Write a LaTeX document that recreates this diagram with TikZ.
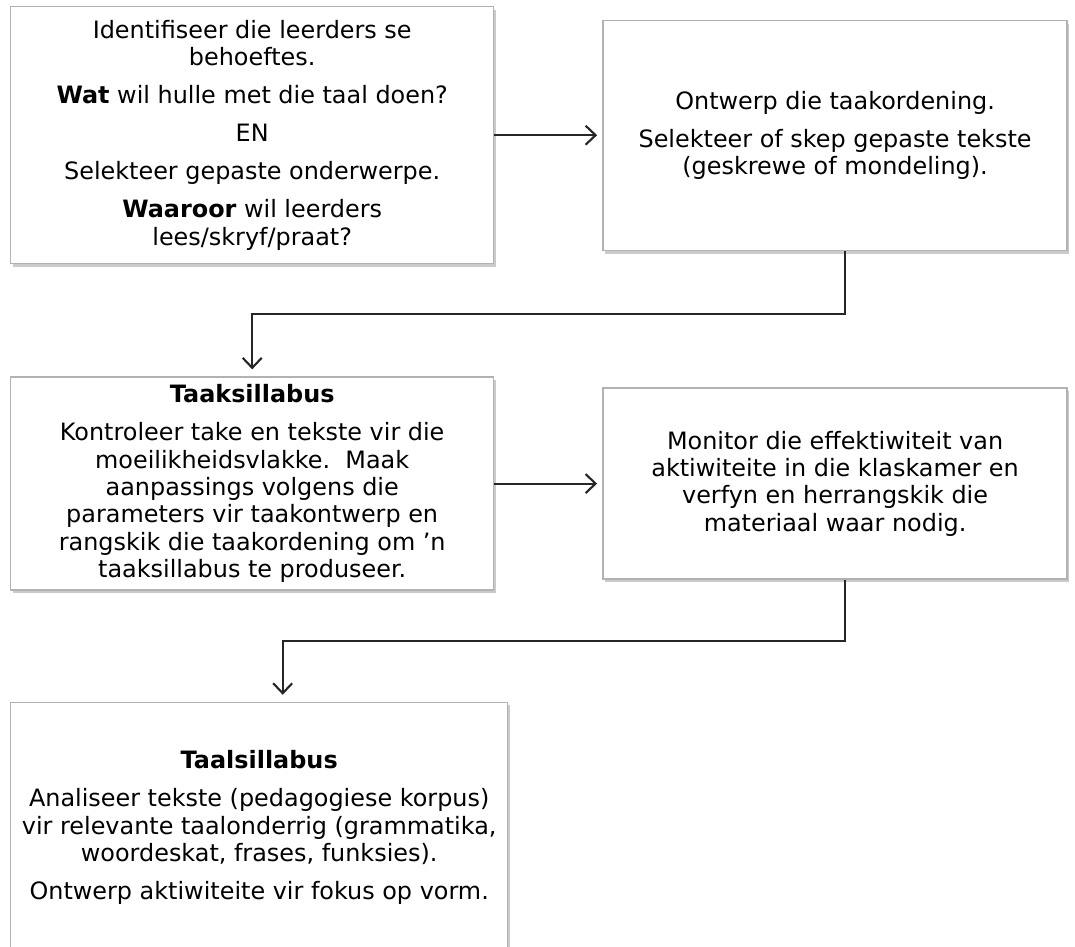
\documentclass[tikz,border=0pt]{standalone}
\usepackage{fontspec}
\setmainfont{DejaVu Sans}
\usetikzlibrary{positioning,shadows,arrows.meta}

\tikzset{
  stap/.style={draw=gray!60, fill=white, line width=0.8pt, align=center, inner sep=0pt,
    font=\fontsize{13.6}{15.6}\selectfont,
    drop shadow={shadow xshift=1.2pt, shadow yshift=-1.6pt, fill=gray!70, opacity=0.6}},
  pyl/.style={-{Straight Barb[length=2mm,width=3.8mm]}, line width=1.2pt, draw=black!85}
}
\newcommand{\pskip}{\\[6pt]}

\begin{document}
\begin{tikzpicture}
\useasboundingbox (0,0) rectangle (21.5,-18.94);
\clip (0,0) rectangle (21.5,-18.94);

% boxes
\node[stap, anchor=north west, minimum width=9.66cm, minimum height=5.14cm] (b1) at (0.2,-0.12)
  {Identifiseer die leerders se\\behoeftes.\pskip
   \textbf{Wat} wil hulle met die taal doen?\pskip
   EN\pskip
   Selekteer gepaste onderwerpe.\pskip
   \textbf{Waaroor} wil leerders\\lees/skryf/praat?};
\node[stap, right=2.16cm of b1.north east, anchor=north west, yshift=-0.28cm,
      minimum width=9.28cm, minimum height=4.6cm] (b2)
  {Ontwerp die taakordening.\pskip
   Selekteer of skep gepaste tekste\\(geskrewe of mondeling).};
\node[stap, below=2.24cm of b1.south west, anchor=north west,
      minimum width=9.66cm, minimum height=4.26cm] (b3)
  {\textbf{Taaksillabus}\pskip
   Kontroleer take en tekste vir die\\moeilikheidsvlakke.\ \ Maak\\aanpassings volgens die\\
   parameters vir taakontwerp en\\rangskik die taakordening om ’n\\taaksillabus te produseer.};
\node[stap, right=2.16cm of b3.north east, anchor=north west, yshift=-0.22cm,
      minimum width=9.28cm, minimum height=3.82cm] (b4)
  {Monitor die effektiwiteit van\\aktiwiteite in die klaskamer en\\verfyn en herrangskik die\\materiaal waar nodig.};
\node[stap, below=2.22cm of b3.south west, anchor=north west,
      minimum width=9.94cm, minimum height=5.0cm] (b5)
  {\textbf{Taalsillabus}\pskip
   Analiseer tekste (pedagogiese korpus)\\vir relevante taalonderrig (grammatika,\\woordeskat, frases, funksies).\pskip
   Ontwerp aktiwiteite vir fokus op vorm.};

% connectors
\draw[pyl, shorten >=3pt] (b1.east) -- (b1.east -| b2.west);
\draw[pyl, shorten >=3pt] (b3.east) -- (b3.east -| b4.west);
\draw[pyl, shorten >=4pt] ([xshift=2mm]b2.south) -- ++(0,-1.26) -| (b3.north);
\draw[pyl, shorten >=4pt] ([xshift=2mm]b4.south) -- ++(0,-1.22) -| ([xshift=4.7mm]b5.north);
\end{tikzpicture}
\end{document}
